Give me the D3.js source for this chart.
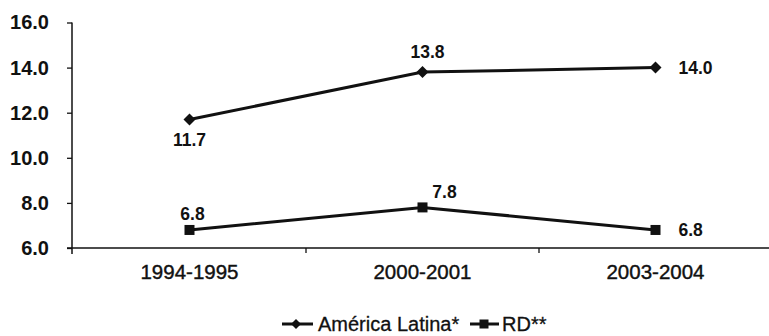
<!DOCTYPE html>
<html>
<head>
<meta charset="utf-8">
<script src="https://cdn.jsdelivr.net/npm/d3@7"></script>
<style>
  html, body { margin: 0; padding: 0; background: #fff; }
  svg { display: block; font-family: "Liberation Sans", Arial, sans-serif; }
</style>
</head>
<body>
<svg id="chart" width="769" height="336"></svg>
<script>
// Periods on the horizontal axis
const periods = ["1994-1995", "2000-2001", "2003-2004"];
// Series values
const americaLatina = [11.7, 13.8, 14.0];
const rd = [6.8, 7.8, 6.8];
// Y axis ticks
const yTicks = [6, 8, 10, 12, 14, 16];
const seriesNames = ["América Latina*", "RD**"];

const svg = d3.select("#chart");
const ink = "#111";

const x = d3.scaleBand().domain(periods).range([73, 772]);
const y = d3.scaleLinear().domain([6, 16]).range([248, 22.5]);
const cx = d => x(d) + x.bandwidth() / 2;

// Y axis
const yAxis = svg.append("g").attr("transform", "translate(72,0)")
  .call(d3.axisLeft(y).tickValues(yTicks).tickFormat(d3.format(".1f")).tickSize(5).tickPadding(18));
yAxis.select(".domain").attr("stroke", ink).attr("stroke-width", 1.5).attr("d", "M0,22.5V254");
yAxis.selectAll(".tick line").attr("stroke", ink).attr("stroke-width", 1.3);
yAxis.selectAll(".tick text").attr("fill", ink).attr("font-size", 20).attr("font-weight", "bold");

// X axis: category labels, ticks on band boundaries
const xAxis = svg.append("g").attr("transform", `translate(0,${y(6)})`);
xAxis.append("line").attr("x1", 67).attr("x2", 769).attr("stroke", ink).attr("stroke-width", 1.3);
xAxis.selectAll("line.sep").data(periods.slice(1)).join("line")
  .attr("class", "sep").attr("x1", d => x(d)).attr("x2", d => x(d))
  .attr("y1", 0).attr("y2", 5).attr("stroke", ink).attr("stroke-width", 1.3);
xAxis.selectAll("text").data(periods).join("text")
  .attr("x", cx).attr("y", 31).attr("text-anchor", "middle")
  .attr("font-size", 20.5).attr("fill", ink)
  .attr("stroke", ink).attr("stroke-width", 0.4).text(d => d);

const line = d3.line().x((d, i) => cx(periods[i])).y(d => y(d));

function diamond(g, px, py, r) {
  g.append("path").attr("d", `M${px},${py - r}L${px + r},${py}L${px},${py + r}L${px - r},${py}Z`).attr("fill", ink);
}
function square(g, px, py, s) {
  g.append("rect").attr("x", px - s / 2).attr("y", py - s / 2).attr("width", s).attr("height", s).attr("fill", ink);
}

// América Latina
svg.append("path").datum(americaLatina).attr("d", line)
  .attr("fill", "none").attr("stroke", ink).attr("stroke-width", 3);
const gAL = svg.append("g");
americaLatina.forEach((v, i) => diamond(gAL, cx(periods[i]), y(v), 6));

// RD
svg.append("path").datum(rd).attr("d", line)
  .attr("fill", "none").attr("stroke", ink).attr("stroke-width", 3);
const gRD = svg.append("g");
rd.forEach((v, i) => square(gRD, cx(periods[i]), y(v), 10));

// Value labels
const labelOffsets = {
  al: [[0, 20, "middle"], [5, -20, "middle"], [23, 0, "start"]],
  rd: [[3, -16, "middle"], [22, -16, "middle"], [23, 0, "start"]]
};
function labels(values, offs) {
  svg.append("g").selectAll("text").data(values).join("text")
    .attr("x", (d, i) => cx(periods[i]) + offs[i][0])
    .attr("y", (d, i) => y(d) + offs[i][1])
    .attr("dy", "0.35em")
    .attr("text-anchor", (d, i) => offs[i][2])
    .attr("font-size", 17.5).attr("font-weight", "bold").attr("fill", ink)
    .text(d => d3.format(".1f")(d));
}
labels(americaLatina, labelOffsets.al);
labels(rd, labelOffsets.rd);

// Legend
const legY = 324;
const leg = svg.append("g");
leg.append("line").attr("x1", 282).attr("x2", 313).attr("y1", legY).attr("y2", legY).attr("stroke", ink).attr("stroke-width", 3);
diamond(leg, 296, legY, 5);
leg.append("text").attr("x", 318).attr("y", legY).attr("dy", "0.35em").attr("font-size", 20).attr("fill", ink)
  .attr("stroke", ink).attr("stroke-width", 0.3).text(seriesNames[0]);
leg.append("line").attr("x1", 470).attr("x2", 499).attr("y1", legY).attr("y2", legY).attr("stroke", ink).attr("stroke-width", 3);
square(leg, 484, legY, 9);
leg.append("text").attr("x", 502).attr("y", legY).attr("dy", "0.35em").attr("font-size", 20).attr("fill", ink)
  .attr("stroke", ink).attr("stroke-width", 0.3).text(seriesNames[1]);
</script>
</body>
</html>
